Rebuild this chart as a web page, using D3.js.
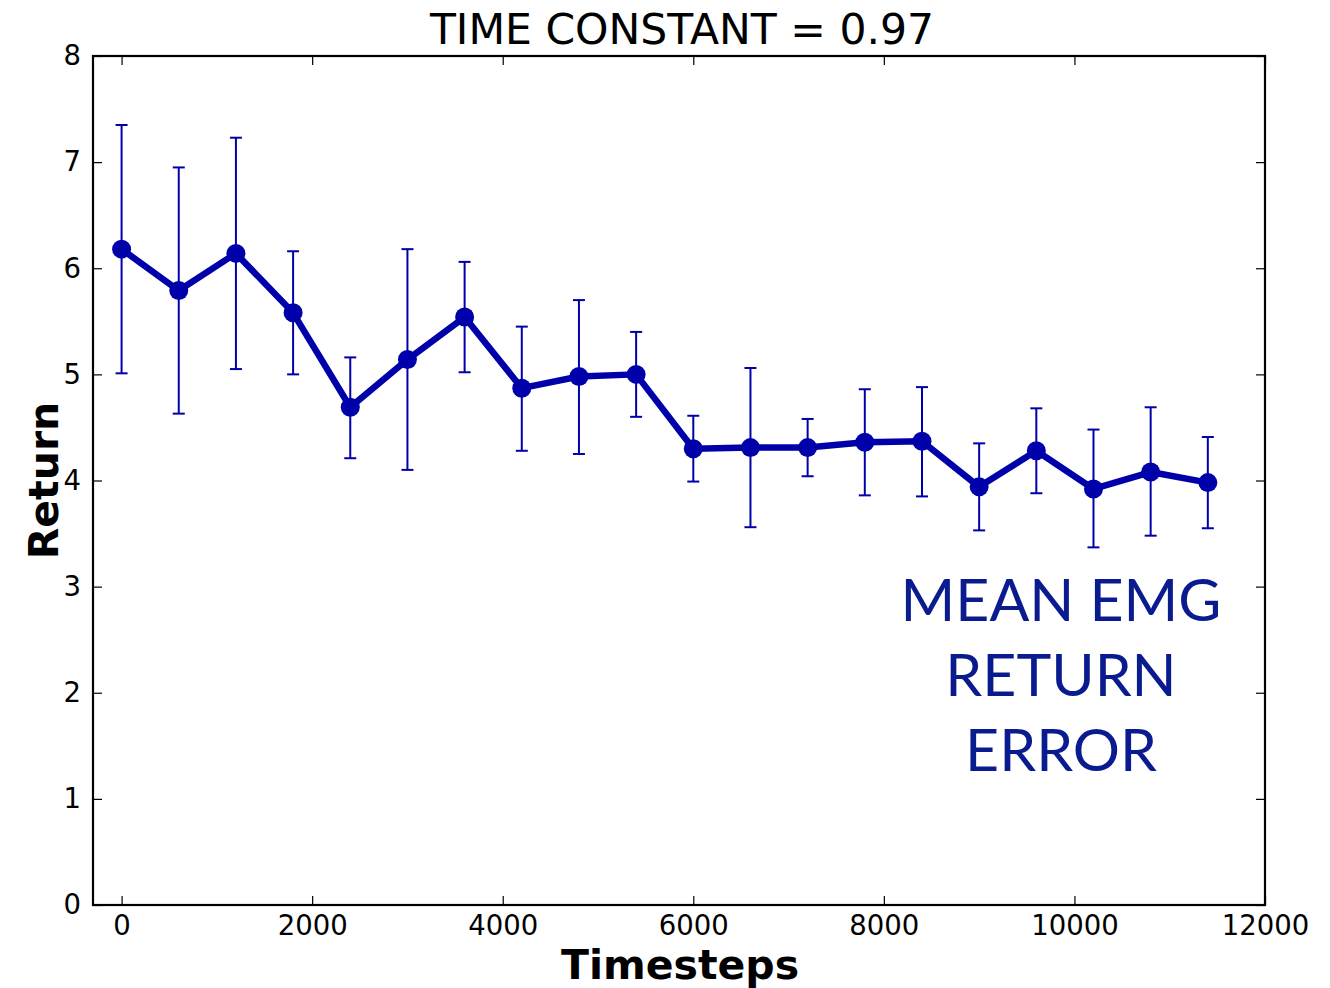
<!DOCTYPE html>
<html><head><meta charset="utf-8">
<script src="https://cdn.jsdelivr.net/npm/d3@7"></script>
<style>body{margin:0;background:#fff}</style>
</head><body>
<svg id="c" width="1330" height="988"></svg>
<script>
const timesteps = [0,600,1200,1800,2400,3000,3600,4200,4800,5400,6000,6600,7200,7800,8400,9000,9600,10200,10800,11400];
const meanReturn = [6.18,5.79,6.14,5.58,4.69,5.14,5.54,4.87,4.98,5.00,4.30,4.31,4.31,4.36,4.37,3.94,4.28,3.92,4.08,3.98];
const upperErr = [7.35,6.95,7.23,6.16,5.16,6.18,6.06,5.45,5.70,5.40,4.61,5.06,4.58,4.86,4.88,4.35,4.68,4.48,4.69,4.41];
const lowerErr = [5.01,4.63,5.05,5.00,4.21,4.10,5.02,4.28,4.25,4.60,3.99,3.56,4.04,3.86,3.85,3.53,3.88,3.37,3.48,3.55];
const xTicks = [0,2000,4000,6000,8000,10000,12000];
const yTicks = [0,1,2,3,4,5,6,7,8];
const title = "TIME CONSTANT = 0.97";
const annotation = ["MEAN EMG","RETURN","ERROR"];

const svg = d3.select("#c");
const L=93, R=1265, T=56, B=905;
const x = d3.scaleLinear().domain([-300,12000]).range([L,R]);
const y = d3.scaleLinear().domain([0,8]).range([B,T]);
const font = "DejaVu Sans, sans-serif";
const col = "#0000aa";

const tk = 9;
const axB = svg.append("g").attr("transform",`translate(0,${B})`)
  .call(d3.axisBottom(x).tickValues(xTicks).tickSizeInner(-tk).tickSizeOuter(0).tickPadding(10).tickFormat(d3.format("d")));
const axT = svg.append("g").attr("transform",`translate(0,${T})`)
  .call(d3.axisTop(x).tickValues(xTicks).tickSizeInner(-tk).tickSizeOuter(0).tickFormat(""));
const axL = svg.append("g").attr("transform",`translate(${L},0)`)
  .call(d3.axisLeft(y).tickValues(yTicks).tickSizeInner(-tk).tickSizeOuter(0).tickPadding(12).tickFormat(d3.format("d")));
const axR = svg.append("g").attr("transform",`translate(${R},0)`)
  .call(d3.axisRight(y).tickValues(yTicks).tickSizeInner(-tk).tickSizeOuter(0).tickFormat(""));
[axB,axT,axL,axR].forEach(a=>{
  a.selectAll(".domain").remove();
  a.selectAll(".tick line").attr("stroke","#000").attr("stroke-width",1.2);
  a.selectAll("text").attr("font-family",font).attr("font-size",27.5).attr("fill","#000");
});
axB.selectAll("text").attr("dy","0.71em");
svg.append("rect").attr("x",L).attr("y",T).attr("width",R-L).attr("height",B-T)
  .attr("fill","none").attr("stroke","#000").attr("stroke-width",2.2);

const eb = svg.append("g").attr("stroke",col).attr("stroke-width",2);
timesteps.forEach((t,i)=>{
  eb.append("line").attr("x1",x(t)).attr("x2",x(t)).attr("y1",y(lowerErr[i])).attr("y2",y(upperErr[i]));
  [lowerErr[i],upperErr[i]].forEach(v=>eb.append("line").attr("x1",x(t)-6).attr("x2",x(t)+6).attr("y1",y(v)).attr("y2",y(v)));
});
svg.append("path").datum(timesteps.map((t,i)=>[t,meanReturn[i]]))
  .attr("fill","none").attr("stroke",col).attr("stroke-width",6.5).attr("stroke-linejoin","round")
  .attr("d",d3.line().x(d=>x(d[0])).y(d=>y(d[1])));
svg.append("g").selectAll("circle").data(timesteps).join("circle")
  .attr("cx",d=>x(d)).attr("cy",(d,i)=>y(meanReturn[i])).attr("r",9.5).attr("fill",col);

svg.append("text").attr("x",682).attr("y",44).attr("text-anchor","middle")
  .attr("font-family",font).attr("font-size",42.5).text(title);
svg.append("text").attr("x",680).attr("y",979).attr("text-anchor","middle")
  .attr("font-family",font).attr("font-size",41).attr("font-weight","bold").text("Timesteps");
svg.append("text").attr("transform",`translate(58,${(T+B)/2}) rotate(-90)`).attr("text-anchor","middle")
  .attr("font-family",font).attr("font-size",41).attr("font-weight","bold").text("Return");

const ann = svg.append("text").attr("text-anchor","middle").attr("font-family","Lato, 'Open Sans', sans-serif")
  .attr("font-size",59).attr("fill","#0a1a8f");
annotation.forEach((s,i)=>ann.append("tspan").attr("x",1061).attr("y",621+i*75).text(s));
</script>
</body></html>
